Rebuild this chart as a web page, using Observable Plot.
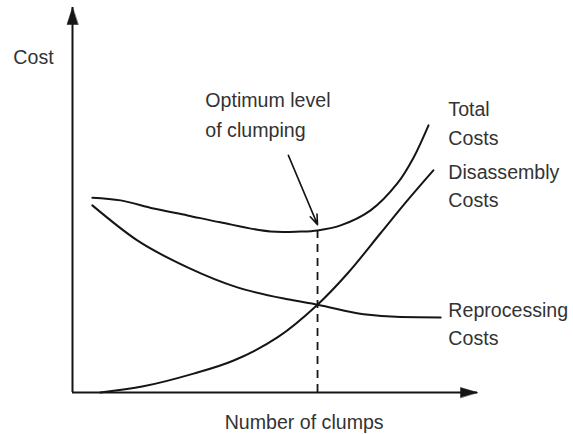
<!DOCTYPE html>
<html><head><meta charset="utf-8">
<script src="https://cdn.jsdelivr.net/npm/d3@7"></script>
<script src="https://cdn.jsdelivr.net/npm/@observablehq/plot@0.6"></script>
<style>body{margin:0;background:#fff}#chart svg{display:block}</style>
</head><body><div id="chart"></div>
<script>
// Series (x = number of clumps, y = cost, arbitrary 0–100 units)
const totalClumps = [4.9, 11.9, 20.0, 28.4, 36.5, 48.9, 56.3, 60.5, 66.2, 73.6, 80.2, 84.2, 87.9];
const totalCost   = [50.6, 49.9, 47.8, 46.0, 44.2, 41.8, 41.8, 42.1, 43.4, 47.3, 54.3, 61.0, 69.4];
const disClumps   = [6.9, 17.5, 29.9, 39.8, 50.6, 60.5, 67.9, 76.0, 82.7, 89.1];
const disCost     = [0, 1.6, 4.9, 8.3, 14.3, 22.8, 30.9, 41.3, 49.9, 57.7];
const repClumps   = [4.9, 16.0, 28.4, 40.7, 53.1, 60.5, 71.9, 81.0, 90.9];
const repCost     = [48.6, 39.5, 32.5, 27.3, 24.2, 22.8, 20.3, 19.6, 19.5];
const optimumClumps = 60.5;
const optimumCost = 42.1;

// Annotation texts and anchors
const curveLabels = ["Total\nCosts", "Disassembly\nCosts", "Reprocessing\nCosts"];
const curveLabelX = [92.8, 92.8, 92.8];
const curveLabelY = [70.4, 54.2, 18.4];
const noteText = "Optimum level\nof clumping";
const noteX = 32.8, noteY = 72.7;
const noteArrow = {x1: 53.3, y1: 61.6, x2: 60.5, y2: 43.6};
const yTitle = "Cost", yTitleX = -14.6, yTitleY = 87.0;
const xTitle = "Number of clumps", xTitleX = 57.2, xTitleY = -7.8;

const series = (xs, ys) => xs.map((x, i) => ({x, y: ys[i]}));
const ink = "#151515";
const fs = 19.6;

const headShape = {
  draw(context, l, r) {
    context.moveTo(0, -l);
    context.lineTo(-r, 0);
    context.lineTo(r, 0);
    context.closePath();
  }
};

const chart = Plot.plot({
  width: 573, height: 434,
  marginLeft: 72, marginRight: 96, marginTop: 7, marginBottom: 42,
  x: {domain: [0, 100], axis: null},
  y: {domain: [0, 100], axis: null},
  style: {fontFamily: "'Liberation Sans', Arial, sans-serif", background: "#fff"},
  marks: [
    Plot.ruleY([0], {stroke: ink, strokeWidth: 2}),
    Plot.ruleX([0], {y1: 0, y2: 100, stroke: ink, strokeWidth: 2}),
    Plot.vector([{x: 100, y: 0}], {x: "x", y: "y", rotate: 90, length: 17, r: 5, anchor: "end", shape: headShape, fill: ink, stroke: ink, strokeWidth: 0.5}),
    Plot.vector([{x: 0, y: 100}], {x: "x", y: "y", rotate: 0, length: 17, r: 5.5, anchor: "end", shape: headShape, fill: ink, stroke: ink, strokeWidth: 0.5}),
    Plot.ruleX([optimumClumps], {y1: 0, y2: optimumCost, stroke: ink, strokeWidth: 1.8, strokeDasharray: "8,6"}),
    Plot.line(series(totalClumps, totalCost), {x: "x", y: "y", curve: "catmull-rom", stroke: ink, strokeWidth: 2}),
    Plot.line(series(disClumps, disCost), {x: "x", y: "y", curve: "catmull-rom", stroke: ink, strokeWidth: 2}),
    Plot.line(series(repClumps, repCost), {x: "x", y: "y", curve: "monotone-x", stroke: ink, strokeWidth: 2}),
    Plot.arrow([noteArrow], {x1: "x1", y1: "y1", x2: "x2", y2: "y2", stroke: ink, strokeWidth: 1.6, headLength: 10, headAngle: 40}),
    Plot.text(curveLabels, {x: (d, i) => curveLabelX[i], y: (d, i) => curveLabelY[i], text: d => d, textAnchor: "start", lineAnchor: "middle", fontSize: fs, lineHeight: 1.45, fill: "#333"}),
    Plot.text([noteText], {x: noteX, y: noteY, text: d => d, textAnchor: "start", lineAnchor: "middle", fontSize: fs, lineHeight: 1.53, fill: "#333"}),
    Plot.text([yTitle], {x: yTitleX, y: yTitleY, text: d => d, textAnchor: "start", fontSize: fs, fill: "#333"}),
    Plot.text([xTitle], {x: xTitleX, y: xTitleY, text: d => d, textAnchor: "middle", fontSize: fs, fill: "#333"})
  ]
});
document.getElementById("chart").append(chart);
</script>
</body></html>
